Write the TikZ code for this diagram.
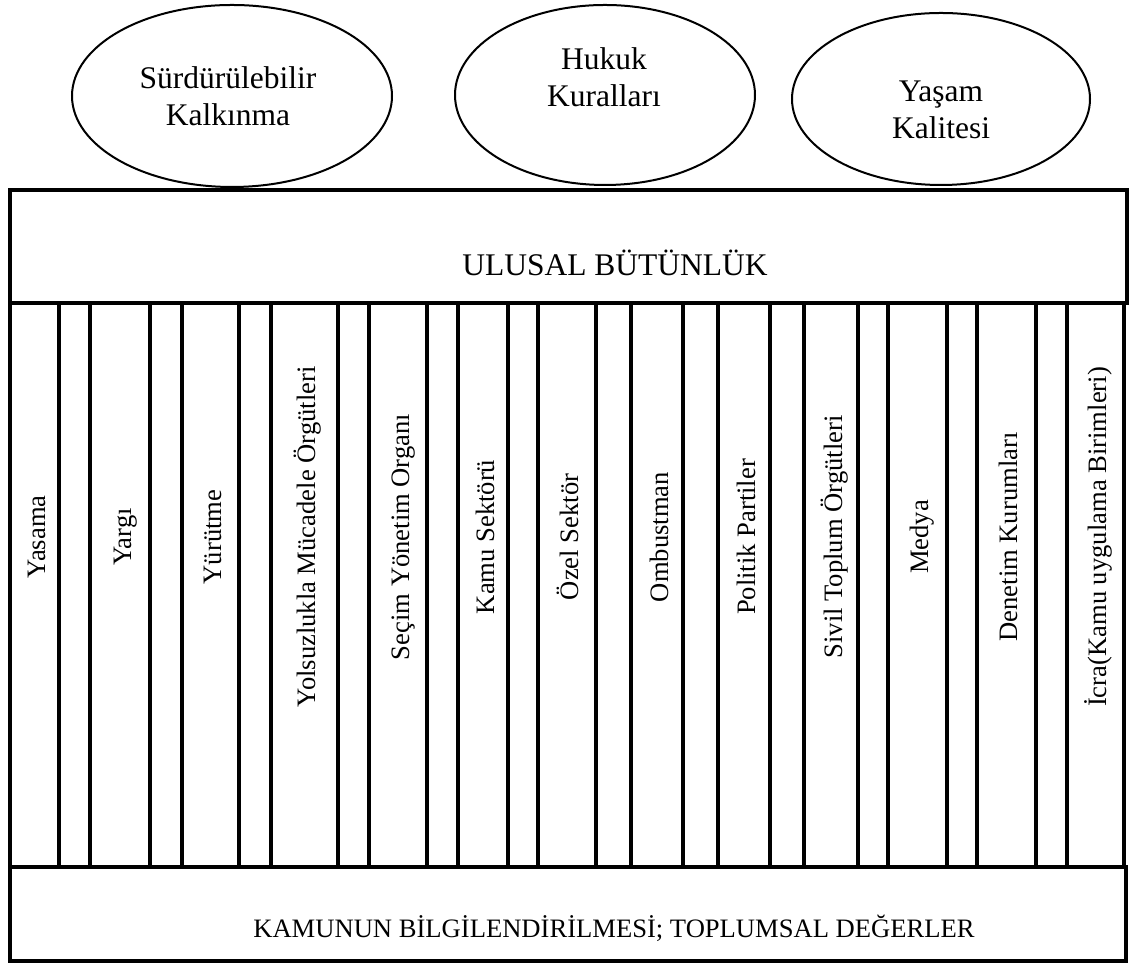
\documentclass[tikz,border=0pt]{standalone}
\usepackage{fontspec}
\setmainfont{Liberation Serif}
\usetikzlibrary{shapes.geometric}
\begin{document}
\begin{tikzpicture}[x=1pt,y=1pt,
  boxline/.style={draw, line width=3.2pt, inner sep=0pt, outer sep=0pt, anchor=south west},
  oval/.style={ellipse, draw, line width=2pt, inner sep=0pt},
  bigtext/.style={font=\fontsize{31.5}{37}\selectfont, align=center, inner sep=0pt},
  coltext/.style={font=\fontsize{26.6}{31}\selectfont, rotate=90, inner sep=0pt, text height=18.2pt, text depth=5.8pt},
  rowtext/.style={inner sep=0pt, anchor=base}]
\useasboundingbox (0,0) rectangle (1133,963);
% ovals
\node[oval, minimum width=320pt, minimum height=182pt] (e1) at (232,867) {};
\node[oval, minimum width=300pt, minimum height=180pt] (e2) at (605,868) {};
\node[oval, minimum width=298pt, minimum height=172pt] (e3) at (941,864) {};
\node[bigtext] (t1) at (228,867) {Sürdürülebilir\\Kalkınma};
\node[bigtext] (t2) at (604,886) {Hukuk\\Kuralları};
\node[bigtext] (t3) at (941,853) {Yaşam\\Kalitesi};
% top band
\node[boxline, minimum width=1117pt, minimum height=113pt] (top) at (10,660) {};
\node[rowtext, font=\fontsize{31.5}{37}\selectfont] (toptext) at (615,687) {ULUSAL BÜTÜNLÜK};
% columns
\foreach \a/\b/\n/\t in {10/59/c1/Yasama, 90/150/c2/Yargı, 182/239/c3/Yürütme,
  271/338/c4/Yolsuzlukla Mücadele Örgütleri, 369/427/c5/Seçim Yönetim Organı,
  458/508/c6/Kamu Sektörü, 538/596/c7/Özel Sektör, 631/683/c8/Ombustman,
  718/770/c9/Politik Partiler, 804/858/c10/Sivil Toplum Örgütleri,
  888/947/c11/Medya, 977/1036/c12/Denetim Kurumları,
  1067/1124/c13/İcra(Kamu uygulama Birimleri)}{
  \node[boxline, minimum width={(\b-\a)*1pt}, minimum height=564pt] (\n) at (\a,96) {};
  \node[coltext] (\n t) at ({(\a+\b)/2+5},426) {\t};
}
% bottom band
\node[boxline, minimum width=1116pt, minimum height=94pt] (bot) at (10,2) {};
\node[rowtext, font=\fontsize{26.6}{31}\selectfont] (bottext) at (614,25) {KAMUNUN BİLGİLENDİRİLMESİ; TOPLUMSAL DEĞERLER};
\end{tikzpicture}
\end{document}
